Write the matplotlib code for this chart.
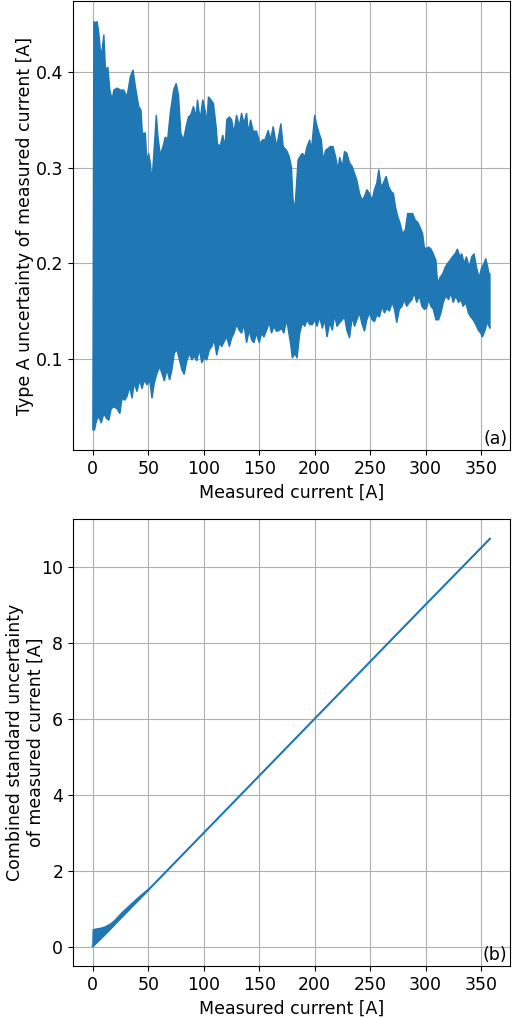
import matplotlib
matplotlib.use('Agg')
import matplotlib.pyplot as plt
import numpy as np

# (a) type A uncertainty: the dense oscillating trace, read as upper and lower envelopes
cur_hi = [0, 0.9, 2.4, 3.9, 5.4, 6.9, 8.4, 9.9, 11.4, 13.5, 15.3, 17.4, 18.9, 21.9, 24.9, 27.8,
          30.8, 33.8, 36.2, 38.3, 41.3, 43.4, 44.6, 47.3, 48.8, 50.3, 51.8, 53.3, 55.4, 57.2,
          58.7, 60.8, 63.2, 65.3, 67.4, 69.8, 72.8, 75.1, 77.2, 79.3, 81.7, 84.1, 86.2, 88.3,
          90.7, 93.1, 94.3, 96.7, 99.1, 101.2, 102.7, 104.2, 106.3, 108.7, 111.1, 112.3, 114.7,
          117.1, 119.2, 120.7, 123.1, 125.1, 127.2, 129.6, 132.0, 134.1, 136.2, 138.6, 140.1,
          142.2, 144.6, 147.6, 150.6, 153.0, 155.1, 158.1, 160.2, 162.6, 165.6, 168.0, 169.5,
          171.6, 174.6, 176.9, 179.0, 180.5, 182.0, 183.5, 185.0,
          186.5, 188.9, 191.0, 193.1, 195.5, 197.0, 198.5, 200.0, 201.5, 203.9, 206.0, 207.5,
          209.9, 212.0, 214.1, 216.5, 218.9, 221.0, 222.5, 224.9, 226.9, 229.0, 231.4, 233.8,
          235.9, 238.0, 240.4, 242.8, 244.9, 247.0, 249.4, 251.8, 253.9, 256.0, 257.8, 259.9,
          262.0, 264.4, 266.8, 268.9, 271.0, 272.8, 274.9, 276.9, 279.3, 281.7, 283.8, 285.9,
          288.3, 290.7, 292.8, 294.9, 297.3, 298.8, 300.3, 302.7, 304.8, 306.9, 309.3, 310.8,
          312.9, 315.3, 317.7, 319.8, 321.9, 324.3, 326.6, 328.7, 330.8, 332.6, 334.7, 336.8,
          339.2, 341.6, 343.7, 345.8, 348.2, 350.6, 352.7, 354.2, 356.0, 357.2, 358.0]
ua_hi = [0.030, 0.4526, 0.451, 0.4526, 0.440, 0.421, 0.423, 0.439, 0.402, 0.405, 0.381, 0.371,
         0.381, 0.383, 0.381, 0.381, 0.374, 0.395, 0.402, 0.385, 0.364, 0.360, 0.336, 0.336,
         0.305, 0.315, 0.305, 0.285, 0.322, 0.355, 0.332, 0.313, 0.322, 0.332, 0.329, 0.357,
         0.381, 0.388, 0.376, 0.336, 0.329, 0.343, 0.353, 0.355, 0.364, 0.353, 0.371, 0.350,
         0.371, 0.360, 0.346, 0.374, 0.371, 0.367, 0.343, 0.325, 0.322, 0.334, 0.322, 0.350,
         0.353, 0.350, 0.336, 0.355, 0.343, 0.357, 0.346, 0.357, 0.336, 0.350, 0.338, 0.338,
         0.325, 0.329, 0.329, 0.339, 0.329, 0.343, 0.322, 0.336, 0.346, 0.322, 0.318, 0.312,
         0.301, 0.266, 0.256, 0.280, 0.308,
         0.311, 0.315, 0.311, 0.322, 0.329, 0.318, 0.336, 0.355, 0.346, 0.336, 0.329, 0.308,
         0.318, 0.320, 0.322, 0.322, 0.311, 0.298, 0.311, 0.301, 0.317, 0.315, 0.305, 0.301,
         0.294, 0.287, 0.273, 0.266, 0.270, 0.277, 0.273, 0.266, 0.277, 0.284, 0.298, 0.280,
         0.284, 0.291, 0.280, 0.275, 0.273, 0.259, 0.249, 0.242, 0.231, 0.235, 0.252, 0.252,
         0.252, 0.245, 0.243, 0.238, 0.231, 0.217, 0.215, 0.217, 0.215, 0.210, 0.203, 0.179,
         0.185, 0.189, 0.196, 0.200, 0.203, 0.207, 0.210, 0.215, 0.207, 0.210, 0.200, 0.207,
         0.196, 0.207, 0.210, 0.196, 0.185, 0.196, 0.200, 0.205, 0.196, 0.189, 0.189]

cur_lo = [0, 1.5, 3.3, 5.4, 7.5, 9.9, 12.3, 14.4, 16.5, 18.9, 21.9, 24.3, 26.3, 28.7, 30.8,
          33.2, 35.3, 37.4, 39.8, 42.2, 44.3, 46.4, 48.8, 51.2, 53.3, 55.4, 57.8, 60.2, 62.3,
          64.4, 66.8, 69.2, 71.3, 73.4, 75.7, 78.1, 80.2, 82.3, 84.7, 87.1, 89.2, 91.3, 93.7,
          96.1, 98.2, 100.3, 102.7, 105.1, 107.2, 109.3, 111.7, 114.1, 116.2, 118.3, 120.7,
          123.1, 125.1, 127.2, 129.6, 132.0, 134.1, 136.2, 138.6, 141.0, 143.1, 145.2, 147.6,
          150.0, 152.1, 154.2, 156.6, 159.0, 161.1, 163.2, 165.6, 168.0, 170.1, 172.2, 174.6,
          176.3, 178.1, 179.9, 182.0, 184.1, 186.5,
          188.9, 191.0, 193.1, 195.5, 197.9, 200.0, 202.1, 204.5, 206.9, 209.0, 211.1, 213.5,
          215.9, 218.0, 220.1, 222.5, 224.9, 226.9, 229.0, 231.4, 233.8, 235.9, 238.0, 240.4,
          242.8, 244.9, 247.0, 249.4, 251.8, 253.9, 256.0, 258.4, 260.8, 262.9, 265.0, 267.4,
          269.8, 271.9, 274.0, 276.3, 278.7, 280.8, 282.9, 285.3, 287.7, 289.8, 291.9, 294.3,
          296.7, 298.8, 300.9, 302.7, 304.8, 306.9, 309.3, 311.7, 313.8, 315.9, 318.3, 320.7,
          322.8, 324.9, 327.2, 329.6, 331.7, 333.8, 336.2, 338.6, 340.7, 342.8, 345.2, 347.6,
          349.7, 351.2, 353.6, 355.7, 357.2, 358.0]
ua_lo = [0.026, 0.026, 0.036, 0.040, 0.033, 0.043, 0.038, 0.036, 0.048, 0.050, 0.048, 0.043,
         0.059, 0.057, 0.061, 0.071, 0.059, 0.075, 0.066, 0.078, 0.069, 0.078, 0.073, 0.078,
         0.059, 0.075, 0.085, 0.092, 0.085, 0.077, 0.089, 0.078, 0.089, 0.106, 0.110, 0.099,
         0.089, 0.084, 0.098, 0.106, 0.099, 0.103, 0.098, 0.110, 0.096, 0.101, 0.099, 0.110,
         0.113, 0.120, 0.104, 0.117, 0.113, 0.118, 0.123, 0.113, 0.122, 0.127, 0.136, 0.130,
         0.127, 0.136, 0.117, 0.130, 0.120, 0.117, 0.127, 0.117, 0.127, 0.123, 0.130, 0.138,
         0.127, 0.134, 0.129, 0.130, 0.132, 0.127, 0.141, 0.130, 0.117, 0.101, 0.106, 0.101,
         0.127,
         0.138, 0.134, 0.141, 0.136, 0.136, 0.141, 0.134, 0.144, 0.132, 0.141, 0.123, 0.138,
         0.130, 0.146, 0.134, 0.138, 0.141, 0.144, 0.130, 0.122, 0.144, 0.134, 0.141, 0.148,
         0.136, 0.129, 0.141, 0.148, 0.141, 0.139, 0.146, 0.144, 0.155, 0.148, 0.153, 0.150,
         0.159, 0.152, 0.138, 0.152, 0.155, 0.162, 0.155, 0.159, 0.162, 0.169, 0.159, 0.166,
         0.155, 0.152, 0.153, 0.162, 0.155, 0.152, 0.141, 0.141, 0.148, 0.159, 0.166, 0.162,
         0.169, 0.159, 0.166, 0.159, 0.162, 0.155, 0.159, 0.148, 0.144, 0.141, 0.136, 0.130,
         0.127, 0.123, 0.130, 0.139, 0.134, 0.132]

# (b) combined standard uncertainty
cur_band_hi = [0, 0.3, 2.4, 6.8, 11.3, 15.8, 20.2, 26.2, 32.1, 41.1, 50]
uc_band_hi = [0.02, 0.45, 0.47, 0.49, 0.53, 0.60, 0.71, 0.90, 1.06, 1.30, 1.52]
cur_band_lo = [0, 5.4, 11.3, 17.3, 23.2, 30, 40, 50]
uc_band_lo = [0.02, 0.16, 0.33, 0.51, 0.70, 0.90, 1.20, 1.49]
cur_line = [0, 50, 100, 150, 200, 250, 300, 358]
uc_line = [0.02, 1.5, 3.0, 4.5, 6.0, 7.5, 9.0, 10.73]

blue = '#1f77b4'
plt.rcParams['font.size'] = 12.5

fig = plt.figure(figsize=(5.16, 10.19), dpi=100)
ax1 = fig.add_axes([0.1415, 0.5584, 0.8465, 0.4406])
ax2 = fig.add_axes([0.1415, 0.052, 0.8465, 0.4387])

ax1.fill(np.r_[cur_hi, cur_lo[::-1]], np.r_[ua_hi, ua_lo[::-1]],
         facecolor=blue, edgecolor=blue, lw=1)
ax1.set_xlim(-17.9, 375.9)
ax1.set_ylim(0.005, 0.474)
ax1.set_yticks([0.1, 0.2, 0.3, 0.4])
ax1.set_xticks(range(0, 351, 50))
ax1.grid(True)
ax1.set_axisbelow(True)
ax1.set_xlabel('Measured current [A]')
ax1.set_ylabel('Type A uncertainty of measured current [A]')
ax1.yaxis.set_label_coords(-0.089, 0.5)
ax1.text(0.995, 0.005, '(a)', transform=ax1.transAxes, ha='right', va='bottom')

ax2.fill(np.r_[cur_band_hi, cur_band_lo[::-1]], np.r_[uc_band_hi, uc_band_lo[::-1]],
         facecolor=blue, edgecolor=blue, lw=1)
ax2.plot(cur_line, uc_line, color=blue, lw=1.5)
ax2.set_xlim(-17.9, 375.9)
ax2.set_ylim(-0.5, 11.25)
ax2.set_yticks([0, 2, 4, 6, 8, 10])
ax2.set_xticks(range(0, 351, 50))
ax2.grid(True)
ax2.set_axisbelow(True)
ax2.set_xlabel('Measured current [A]')
ax2.set_ylabel('Combined standard uncertainty\nof measured current [A]')
ax2.yaxis.set_label_coords(-0.064, 0.5)
ax2.text(0.995, 0.005, '(b)', transform=ax2.transAxes, ha='right', va='bottom')

fig.savefig('out.png', dpi=100)
